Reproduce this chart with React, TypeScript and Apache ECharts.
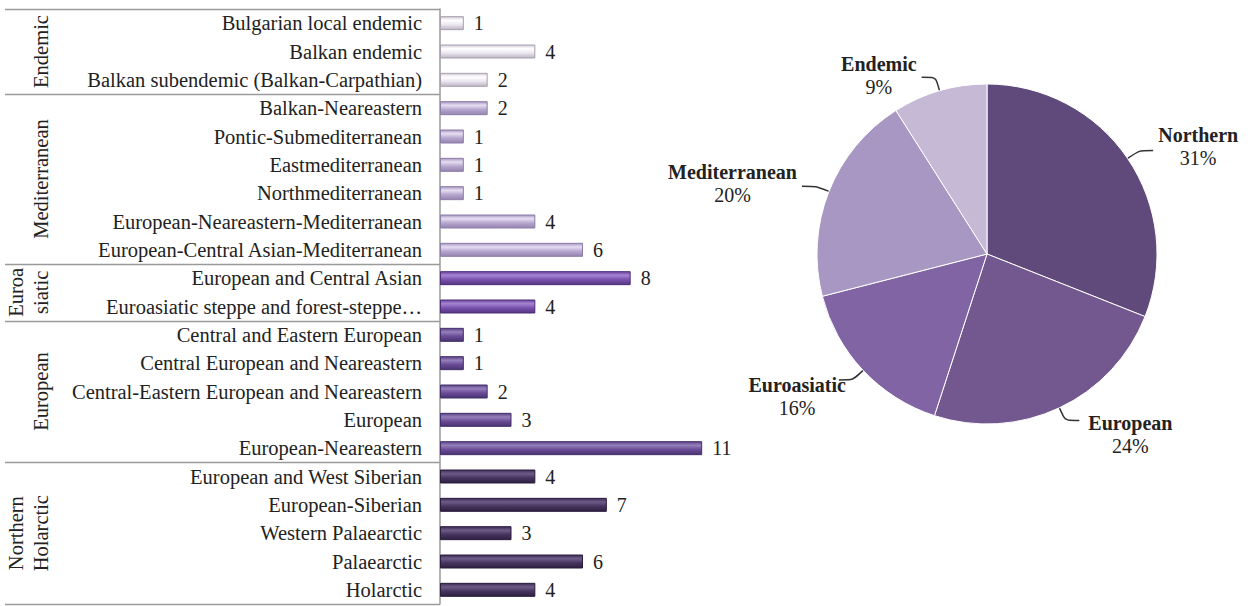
import React, { useEffect, useRef } from "react";
import * as echarts from "echarts";

const endemicCats = ["Bulgarian local endemic", "Balkan endemic", "Balkan subendemic (Balkan-Carpathian)"];
const endemicVals = [1, 4, 2];
const medCats = [
  "Balkan-Neareastern",
  "Pontic-Submediterranean",
  "Eastmediterranean",
  "Northmediterranean",
  "European-Neareastern-Mediterranean",
  "European-Central Asian-Mediterranean",
];
const medVals = [2, 1, 1, 1, 4, 6];
const euroasCats = ["European and Central Asian", "Euroasiatic steppe and forest-steppe…"];
const euroasVals = [8, 4];
const europeanCats = [
  "Central and Eastern European",
  "Central European and Neareastern",
  "Central-Eastern European and Neareastern",
  "European",
  "European-Neareastern",
];
const europeanVals = [1, 1, 2, 3, 11];
const northernCats = [
  "European and West Siberian",
  "European-Siberian",
  "Western Palaearctic",
  "Palaearctic",
  "Holarctic",
];
const northernVals = [4, 7, 3, 6, 4];
const groupNames = ["Endemic", "Mediterranean", "Euroa\nsiatic", "European", "Northern\nHolarctic"];

const pieNames = ["Northern", "European", "Euroasiatic", "Mediterranean", "Endemic"];
const pieVals = [31, 24, 16, 20, 9];

// bar gradient stops per group: [top-edge, highlight, body, bottom-edge, border]
const groupColors = [
  ["#d4ccd8", "#ffffff", "#ece8f0", "#bdb4c4", "#a8a0b0"],
  ["#a898c2", "#e6def2", "#b8a8d0", "#9484ae", "#8c7ca8"],
  ["#6c44a0", "#a584d2", "#7a52b0", "#55357f", "#4c2e78"],
  ["#5e4288", "#9580ba", "#6c4c98", "#4a3270", "#42306a"],
  ["#3e2c56", "#6e5c88", "#48345f", "#2e2040", "#2a1c3c"],
];
const pieColors = ["#5f4a7b", "#73578f", "#8164a4", "#a897c2", "#c5b9d6"];
// fine nudges of the pie labels (dx, dy)
const pieLabelShift = [
  [0, -4],
  [4, 14],
  [12, 17],
  [0, -3],
  [0, -2],
];

const FONT = "Liberation Serif";

export default function App() {
  const ref = useRef<HTMLDivElement>(null);
  useEffect(() => {
    if (!ref.current) return;
    const chart = echarts.init(ref.current, null, { renderer: "svg" });

    const groups = [
      [endemicCats, endemicVals],
      [medCats, medVals],
      [euroasCats, euroasVals],
      [europeanCats, europeanVals],
      [northernCats, northernVals],
    ] as [string[], number[]][];

    const cats: string[] = [];
    const data: any[] = [];
    groups.forEach(([c, v], gi) => {
      const col = groupColors[gi];
      c.forEach((name, i) => {
        cats.push(name);
        data.push({
          value: v[i],
          itemStyle: {
            color: new echarts.graphic.LinearGradient(0, 0, 0, 1, [
              { offset: 0, color: col[0] },
              { offset: 0.28, color: col[1] },
              { offset: 0.6, color: col[2] },
              { offset: 1, color: col[3] },
            ]),
            borderColor: col[4],
            borderWidth: 1,
          },
        });
      });
    });

    const gridTop = 9;
    const gridHeight = 595;
    const gridLeft = 440;
    const band = gridHeight / cats.length;

    const graphics: any[] = [];
    let idx = 0;
    const bounds = [gridTop];
    groups.forEach(([c], gi) => {
      const start = idx;
      idx += c.length;
      bounds.push(gridTop + idx * band);
      const mid = gridTop + ((start + idx) / 2) * band;
      graphics.push({
        type: "text",
        x: 53,
        y: mid,
        rotation: Math.PI / 2,
        style: {
          text: groupNames[gi],
          font: `20.5px "${FONT}"`,
          fill: "#222",
          align: "center",
          verticalAlign: "bottom",
          lineHeight: 25,
        },
      });
    });
    bounds.forEach((b) => {
      graphics.push({
        type: "line",
        shape: { x1: 5, y1: Math.round(b) + 0.5, x2: gridLeft, y2: Math.round(b) + 0.5 },
        style: { stroke: "#9a9a9a", lineWidth: 1.5 },
      });
    });

    chart.setOption({
      animation: false,
      backgroundColor: "#ffffff",
      textStyle: { fontFamily: FONT },
      grid: { left: gridLeft, top: gridTop, width: 286, height: gridHeight },
      xAxis: { type: "value", min: 0, max: 12, show: false },
      yAxis: {
        type: "category",
        inverse: true,
        data: cats,
        axisLine: { show: true, lineStyle: { color: "#9a9a9a", width: 1.5 } },
        axisTick: { show: false },
        axisLabel: { fontSize: 20.5, color: "#222", fontFamily: FONT, margin: 18 },
      },
      graphic: graphics,
      series: [
        {
          type: "bar",
          data,
          barWidth: 14,
          label: {
            show: true,
            position: "right",
            distance: 10,
            fontSize: 20,
            color: "#222",
            fontFamily: FONT,
          },
        },
        {
          type: "pie",
          center: [987, 254],
          radius: 170,
          startAngle: 90,
          clockwise: true,
          data: pieNames.map((n, i) => ({ name: n, value: pieVals[i], itemStyle: { color: pieColors[i] } })),
          itemStyle: { borderColor: "#ffffff", borderWidth: 1 },
          label: {
            show: true,
            position: "outside",
            formatter: "{n|{b}}\n{p|{c}%}",
            color: "#222",
            rich: {
              n: { fontSize: 20, fontWeight: "bold", fontFamily: FONT, color: "#222", align: "center", lineHeight: 23 },
              p: { fontSize: 20, fontFamily: FONT, color: "#222", align: "center", lineHeight: 23 },
            },
          },
          labelLayout: (params: any) => {
            const s = pieLabelShift[params.dataIndex] || [0, 0];
            return { dx: s[0], dy: s[1] };
          },
          labelLine: {
            show: true,
            length: 14,
            length2: 14,
            smooth: 0.2,
            lineStyle: { color: "#333", width: 1.5 },
          },
        },
      ],
    });
    return () => chart.dispose();
  }, []);
  return <div ref={ref} style={{ position: "fixed", left: 0, top: 0, width: 1250, height: 606 }} />;
}
